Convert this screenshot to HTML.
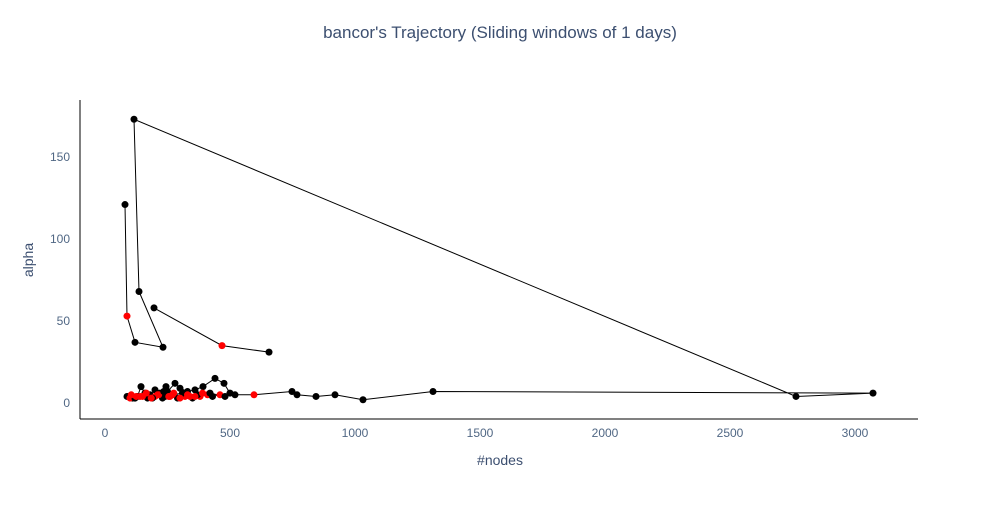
<!DOCTYPE html>
<html><head><meta charset="utf-8"><style>
body{margin:0;background:#fff;font-family:"Liberation Sans",sans-serif}
text{font-family:"Liberation Sans",sans-serif}
</style></head><body>
<svg id="c" width="1000" height="500">
<text x="500" y="38" text-anchor="middle" font-size="17" fill="#3c4f70">bancor's Trajectory (Sliding windows of 1 days)</text>
<text x="500" y="465" text-anchor="middle" font-size="14" fill="#3c4f70">#nodes</text>
<text x="33" y="260" text-anchor="middle" font-size="14" fill="#3c4f70" transform="rotate(-90 33 260)">alpha</text>
<line x1="80" y1="100" x2="80" y2="419" stroke="#000" stroke-width="1"/>
<line x1="80" y1="419" x2="918" y2="419" stroke="#000" stroke-width="1"/>
<g id="xt"></g><g id="yt"></g><g id="series"></g>
</svg>
<script>
const xTicks=[0,500,1000,1500,2000,2500,3000];
const yTicks=[0,50,100,150];
const nodes=[80,88,120,232,136,116,2764,3072,1312,1032,920,844,768,748,596,520,500,476,440,392,360,330,300,280,250,244,220,200,180,160,144,130,110,96,88,100,120,140,170,200,230,260,290,320,350,380,410,430,460,480,420,370,340,310,270,240,210,190,150,120,105,125,165,185,215,235,255,275,300,330,360,390,196,468,656];
const alpha=[121,53,37,34,68,173,4,6,7,2,5,4,5,7,5,5,6,12,15,10,8,7,9,12,7,10,6,8,5,6,10,4,3,4,4,3,3,4,3,4,3,4,3,4,3,4,5,4,5,4,6,5,4,6,5,4,5,3,4,3,5,4,6,3,5,7,4,6,3,5,4,6,58,35,31];
const highlight=[0,1,0,0,0,0,0,0,0,0,0,0,0,0,1,0,0,0,0,0,0,0,0,0,0,0,0,0,0,0,0,0,0,0,0,1,0,1,0,1,0,1,0,1,0,1,1,0,1,0,0,0,1,0,1,0,1,0,1,0,1,1,1,1,1,0,1,1,1,1,1,1,0,1,0];
const segmentStart=[0,72];
const X=v=>105+v*0.25, Y=v=>403-v*1.64;
const ns="http://www.w3.org/2000/svg";
function mk(t,a,p){const e=document.createElementNS(ns,t);for(const k in a)e.setAttribute(k,a[k]);p.appendChild(e);return e;}
const xt=document.getElementById('xt'),yt=document.getElementById('yt'),s=document.getElementById('series');
xTicks.forEach(v=>{const t=mk('text',{x:X(v),y:437,'text-anchor':'middle','font-size':12,fill:'#506784'},xt);t.textContent=v;

});
yTicks.forEach(v=>{const t=mk('text',{x:70,y:Y(v)+4,'text-anchor':'end','font-size':12,fill:'#506784'},yt);t.textContent=v;

});
segmentStart.forEach((st,k)=>{const en=k+1<segmentStart.length?segmentStart[k+1]:nodes.length;
const pts=[];for(let i=st;i<en;i++)pts.push(X(nodes[i])+','+Y(alpha[i]));
const pl=mk('polyline',{points:pts.join(' '),fill:'none',stroke:'#000','stroke-width':1},s);

});
nodes.forEach((n,i)=>{const c=mk('circle',{cx:X(n),cy:Y(alpha[i]),r:3.5,fill:highlight[i]?'#ff0000':'#000'},s);

});
</script>
</body></html>
